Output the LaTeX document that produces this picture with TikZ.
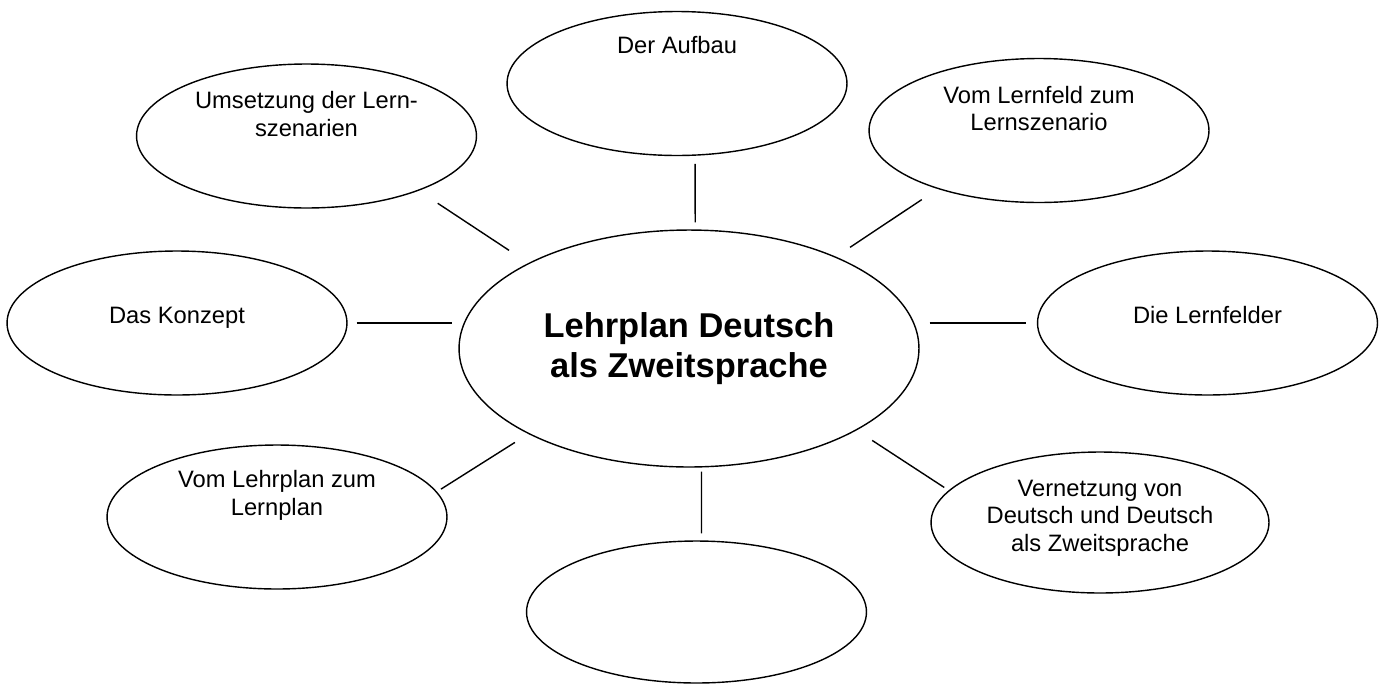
\documentclass[tikz,border=0pt]{standalone}
\usepackage{fontspec}
\setmainfont{Liberation Sans}
\usetikzlibrary{positioning,calc,shapes.geometric}

\begin{document}
\begin{tikzpicture}[
    x=0.02cm,y=-0.02cm,
    topic/.style={ellipse,draw,line width=0.8pt,inner sep=0pt,minimum width=6.8cm,minimum height=2.88cm},
    hub/.style={ellipse,draw,line width=0.8pt,inner sep=0pt,minimum width=9.2cm,minimum height=4.74cm,align=center,font=\fontsize{19.6}{22.8}\selectfont\bfseries},
    txt/.style={inner sep=0pt,align=center,anchor=base,font=\fontsize{13.5}{15.7}\selectfont},
    link/.style={line width=0.8pt}
]
    \useasboundingbox (0,0) rectangle (1382,684);

    \node[hub] (zentrum) at (689,348.5) {Lehrplan Deutsch\\als Zweitsprache};
    \node[topic] (aufbau) at (677,83.5) {};
    \node[topic] (umsetzung) at (306.5,136) {};
    \node[topic] (lernfeld) at (1039,130.5) {};
    \node[topic] (konzept) at (177,323) {};
    \node[topic] (lernfelder) at (1207.5,323) {};
    \node[topic] (lehrplan) at (277,517) {};
    \node[topic,minimum width=6.76cm,minimum height=2.82cm] (vernetzung) at (1100,522.5) {};
    \node[topic,minimum height=2.84cm] (leer) at (696.5,612) {};

    \node[txt] (aufbau-t) at ($(aufbau.north)+(0,43)$) {Der Aufbau};
    \node[txt] (umsetzung-t) at ($(umsetzung.north)+(0,73)$) {Umsetzung der Lern-\\szenarien};
    \node[txt] (lernfeld-t) at ($(lernfeld.north)+(0,73)$) {Vom Lernfeld zum\\Lernszenario};
    \node[txt] (konzept-t) at (konzept.center) {Das Konzept};
    \node[txt] (lernfelder-t) at (lernfelder.center) {Die Lernfelder};
    \node[txt] (lehrplan-t) at ($(lehrplan.north)+(0,71)$) {Vom Lehrplan zum\\Lernplan};
    \node[txt] (vernetzung-t) at ($(vernetzung.north)+(0,100)$) {Vernetzung von\\Deutsch und Deutsch\\als Zweitsprache};

    \draw[link,shorten <=12.9pt,shorten >=13.1pt] (umsetzung.-26.3) -- (zentrum.152.2);
    \draw[link,shorten <=4.6pt,shorten >=4pt] (aufbau.-76.6) -- (zentrum.87.6);
    \draw[link,shorten <=10.9pt,shorten >=9.6pt] (lernfeld.-150.3) -- (zentrum.32.7);
    \draw[link,shorten <=5.1pt,shorten >=3.4pt] (konzept.east) -- (konzept.east -| zentrum.west);
    \draw[link,shorten <=5.7pt,shorten >=6pt] (lernfelder.west -| zentrum.east) -- (lernfelder.west);
    \draw[link,shorten <=9pt,shorten >=2.7pt] (zentrum.-152.75) -- (lehrplan.9.1);
    \draw[link,shorten <=2.4pt,shorten >=4pt] (zentrum.-84.2) -- (leer.86.4);
    \draw[link,shorten <=10.5pt,shorten >=3pt] (zentrum.-26.4) -- (vernetzung.168.7);
\end{tikzpicture}
\end{document}
